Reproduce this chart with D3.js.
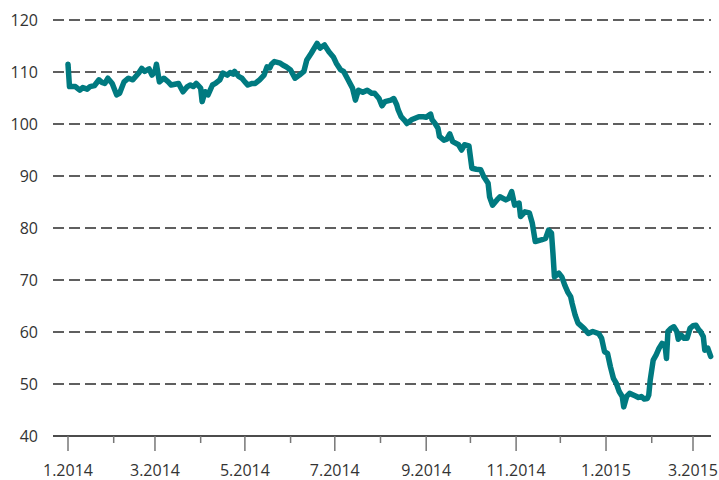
<!DOCTYPE html>
<html>
<head>
<meta charset="utf-8">
<script src="https://cdn.jsdelivr.net/npm/d3@7"></script>
<style>
  body { margin: 0; background: #fff; }
  svg text { font-family: "Open Sans", sans-serif; font-size: 16px; fill: #333; }
</style>
</head>
<body>
<div id="chart"></div>
<script>
const dates = [
  "2014-01-01","2014-01-02","2014-01-06","2014-01-09","2014-01-11","2014-01-14","2014-01-16","2014-01-19",
  "2014-01-22","2014-01-24","2014-01-26","2014-01-28","2014-01-31","2014-02-03","2014-02-05","2014-02-08",
  "2014-02-11","2014-02-14","2014-02-18","2014-02-20","2014-02-22","2014-02-25","2014-02-27","2014-03-01",
  "2014-03-02","2014-03-04","2014-03-07","2014-03-10","2014-03-12","2014-03-17","2014-03-20","2014-03-23",
  "2014-03-25","2014-03-27","2014-03-29","2014-04-01","2014-04-02","2014-04-04","2014-04-06","2014-04-09",
  "2014-04-11","2014-04-14","2014-04-16","2014-04-19","2014-04-21","2014-04-23","2014-04-24","2014-04-27",
  "2014-04-29","2014-05-01","2014-05-03","2014-05-06","2014-05-08","2014-05-11","2014-05-14","2014-05-16",
  "2014-05-18","2014-05-19","2014-05-21","2014-05-25","2014-05-27","2014-05-29","2014-06-01","2014-06-04",
  "2014-06-07","2014-06-10","2014-06-12","2014-06-15","2014-06-19","2014-06-21","2014-06-24","2014-06-27",
  "2014-06-30","2014-07-02","2014-07-05","2014-07-07","2014-07-10","2014-07-13","2014-07-15","2014-07-17",
  "2014-07-20","2014-07-23","2014-07-26","2014-07-28","2014-07-31","2014-08-02","2014-08-04","2014-08-08",
  "2014-08-10","2014-08-12","2014-08-13","2014-08-15","2014-08-17","2014-08-19","2014-08-22","2014-08-27",
  "2014-08-30","2014-09-01","2014-09-04","2014-09-05","2014-09-07","2014-09-09","2014-09-10","2014-09-13",
  "2014-09-15","2014-09-17","2014-09-19","2014-09-23","2014-09-25","2014-09-27","2014-09-30","2014-10-02",
  "2014-10-05","2014-10-08","2014-10-10","2014-10-13","2014-10-14","2014-10-16","2014-10-19","2014-10-21",
  "2014-10-25","2014-10-27","2014-10-29","2014-10-31","2014-11-03","2014-11-04","2014-11-07","2014-11-10",
  "2014-11-12","2014-11-14","2014-11-18","2014-11-21","2014-11-23","2014-11-25","2014-11-26","2014-11-27",
  "2014-11-30","2014-12-02","2014-12-04","2014-12-06","2014-12-08","2014-12-09","2014-12-11","2014-12-13",
  "2014-12-17","2014-12-20","2014-12-23","2014-12-27","2014-12-29","2014-12-31","2015-01-02","2015-01-04",
  "2015-01-06","2015-01-08","2015-01-10","2015-01-12","2015-01-13","2015-01-15","2015-01-17","2015-01-21",
  "2015-01-23","2015-01-25","2015-01-27","2015-01-29","2015-01-30","2015-01-31","2015-02-02","2015-02-04",
  "2015-02-06","2015-02-08","2015-02-10","2015-02-11","2015-02-12","2015-02-14","2015-02-16","2015-02-18",
  "2015-02-19","2015-02-21","2015-02-23","2015-02-25","2015-02-27","2015-03-01","2015-03-03","2015-03-05",
  "2015-03-06","2015-03-08","2015-03-09","2015-03-11","2015-03-13"
];
const values = [
  111.5,107.2,107.2,106.5,107.0,106.7,107.2,107.4,
  108.5,108.0,107.8,108.8,107.8,105.6,105.9,108.1,
  108.8,108.5,109.8,110.7,110.1,110.6,109.4,110.1,
  111.5,108.1,108.8,108.1,107.5,107.8,106.2,107.2,
  107.5,107.2,107.8,106.9,104.3,106.2,105.6,107.5,
  107.8,108.5,109.8,109.4,109.9,109.6,110.1,109.1,
  108.8,108.1,107.5,107.8,107.8,108.5,109.4,111.0,
  110.8,111.5,112.0,111.7,111.3,111.0,110.4,108.8,
  109.4,110.1,112.3,113.6,115.5,114.6,115.2,113.9,
  112.9,111.7,110.4,110.1,108.5,106.9,104.6,106.5,
  106.1,106.5,105.9,105.9,104.9,103.5,104.3,104.6,
  104.9,103.7,102.7,101.4,100.8,100.1,100.8,101.4,
  101.4,101.3,101.9,100.8,100.1,99.2,97.6,96.9,
  97.1,98.1,96.6,96.0,95.0,96.0,95.8,91.5,
  91.3,91.2,89.9,88.6,86.0,84.4,85.4,86.0,
  85.4,85.7,87.0,84.4,84.8,82.2,83.1,82.9,
  80.9,77.4,77.7,78.0,79.6,79.0,75.1,70.6,
  71.3,70.6,69.0,67.7,66.8,65.5,63.3,61.7,
  60.7,59.7,60.1,59.7,58.8,56.2,55.9,53.3,
  51.1,50.1,48.5,47.6,45.6,47.6,48.2,47.7,
  47.4,47.6,47.1,47.2,47.9,50.8,54.6,55.6,
  56.9,57.8,57.5,54.9,60.1,60.7,61.0,60.1,
  58.6,59.4,58.8,58.8,60.7,61.2,61.3,60.4,
  60.1,59.1,56.5,56.9,55.3
];
const yTicks = [40, 50, 60, 70, 80, 90, 100, 110, 120];

const width = 719;
const height = 480;
const parse = d3.utcParse("%Y-%m-%d");
const data = dates.map((d, i) => ({date: parse(d), value: values[i]}));

const x = d3.scaleUtc()
  .domain([new Date(Date.UTC(2014, 0, 1)), new Date(Date.UTC(2015, 2, 1))])
  .range([68, 693]);

const y = d3.scaleLinear()
  .domain([40, 120])
  .range([436, 20]);

const svg = d3.select("#chart")
  .append("svg")
  .attr("width", width)
  .attr("height", height);

// dashed grid
svg.append("g")
  .selectAll("line")
  .data(yTicks.filter(t => t > 40))
  .enter()
  .append("line")
  .attr("x1", 53)
  .attr("x2", 711)
  .attr("y1", d => y(d))
  .attr("y2", d => y(d))
  .attr("stroke", "#2b2b2b")
  .attr("stroke-width", 1.3)
  .attr("stroke-dasharray", "11,5");

// y labels
svg.append("g")
  .selectAll("text")
  .data(yTicks)
  .enter()
  .append("text")
  .attr("x", 38)
  .attr("y", d => y(d))
  .attr("dy", "0.35em")
  .attr("text-anchor", "end")
  .text(d => d);

// x axis
const months = d3.utcMonth.range(new Date(Date.UTC(2014, 0, 1)), new Date(Date.UTC(2015, 2, 2)));
svg.append("line")
  .attr("x1", 53).attr("x2", 711)
  .attr("y1", y(40)).attr("y2", y(40))
  .attr("stroke", "#111")
  .attr("stroke-width", 1.5);

svg.append("g")
  .selectAll("line")
  .data(months)
  .enter()
  .append("line")
  .attr("x1", d => x(d))
  .attr("x2", d => x(d))
  .attr("y1", y(40))
  .attr("y2", d => d.getUTCMonth() % 2 === 0 ? y(40) + 15 : y(40) + 7)
  .attr("stroke", "#777")
  .attr("stroke-width", 1.5);

svg.append("g")
  .selectAll("text")
  .data(months.filter(d => d.getUTCMonth() % 2 === 0))
  .enter()
  .append("text")
  .attr("x", d => x(d))
  .attr("y", 476)
  .attr("text-anchor", "middle")
  .text(d => `${d.getUTCMonth() + 1}.${d.getUTCFullYear()}`);

// price line
const line = d3.line()
  .x(d => x(d.date))
  .y(d => y(d.value));

svg.append("path")
  .datum(data)
  .attr("fill", "none")
  .attr("stroke", "#007a80")
  .attr("stroke-width", 5.5)
  .attr("stroke-linejoin", "round")
  .attr("stroke-linecap", "round")
  .attr("d", line);
</script>
</body>
</html>
